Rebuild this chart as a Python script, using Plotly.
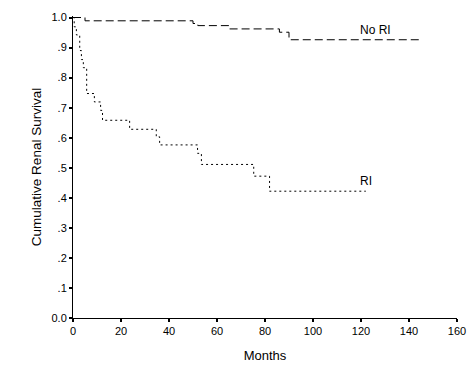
import plotly.graph_objects as go

# Kaplan-Meier step data (months, cumulative renal survival)
no_ri_months = [0, 5, 50, 52, 65, 86, 90, 145]
no_ri_surv = [1.0, 0.989, 0.98, 0.973, 0.962, 0.951, 0.926, 0.926]

ri_months = [0, 0.5, 1.4, 2.8, 3.5, 4.3, 5.7, 8.9, 11.5, 12.3, 23.6, 34.7, 36.1,
             51.9, 53.5, 75.3, 81.9, 122]
ri_surv = [1.0, 0.969, 0.942, 0.89, 0.86, 0.833, 0.747, 0.719, 0.691, 0.658, 0.628,
           0.603, 0.576, 0.548, 0.511, 0.472, 0.422, 0.422]

y_tickvals = [0, 0.1, 0.2, 0.3, 0.4, 0.5, 0.6, 0.7, 0.8, 0.9, 1.0]
y_ticktext = ["0.0", ".1", ".2", ".3", ".4", ".5", ".6", ".7", ".8", ".9", "1.0"]
x_tickvals = [0, 20, 40, 60, 80, 100, 120, 140, 160]

font_family = "Liberation Sans, Arial, sans-serif"

fig = go.Figure()
fig.add_trace(go.Scatter(
    x=no_ri_months, y=no_ri_surv, mode="lines", line_shape="hv",
    line=dict(color="black", width=1, dash="8px,4px"), name="No RI",
    showlegend=False, hoverinfo="skip"))
fig.add_trace(go.Scatter(
    x=ri_months, y=ri_surv, mode="lines", line_shape="hv",
    line=dict(color="black", width=1, dash="2px,3px"), name="RI",
    showlegend=False, hoverinfo="skip"))

fig.add_annotation(x=no_ri_months[-1] - 19, y=no_ri_surv[-1], text="No RI",
                   showarrow=False, xanchor="center", yanchor="bottom", yshift=1,
                   font=dict(size=12, color="black", family=font_family))
fig.add_annotation(x=ri_months[-1], y=ri_surv[-1], text="RI",
                   showarrow=False, xanchor="center", yanchor="bottom", yshift=1,
                   font=dict(size=12, color="black", family=font_family))

fig.update_layout(
    width=476, height=381,
    margin=dict(l=73, r=19, t=16, b=63),
    paper_bgcolor="white", plot_bgcolor="white",
    font=dict(family=font_family, size=11, color="black"),
    xaxis=dict(range=[0, 160], tickvals=x_tickvals, showline=True, linecolor="black",
               linewidth=1, ticks="outside", ticklen=3, tickwidth=2, tickcolor="black",
               showgrid=False, zeroline=False, automargin=False,
               title=dict(text="Months", font=dict(size=13), standoff=14)),
    yaxis=dict(range=[0, 1.005], tickvals=y_tickvals, ticktext=y_ticktext,
               showline=True, linecolor="black", linewidth=1, ticks="outside",
               ticklen=3, tickwidth=2, tickcolor="black", showgrid=False,
               zeroline=False, automargin=False,
               title=dict(text="Cumulative Renal Survival", font=dict(size=13.5), standoff=6)),
)

fig.write_html("out.html", config={"displayModeBar": False},
               post_script="document.body.style.margin='0';document.body.style.overflow='hidden';")
